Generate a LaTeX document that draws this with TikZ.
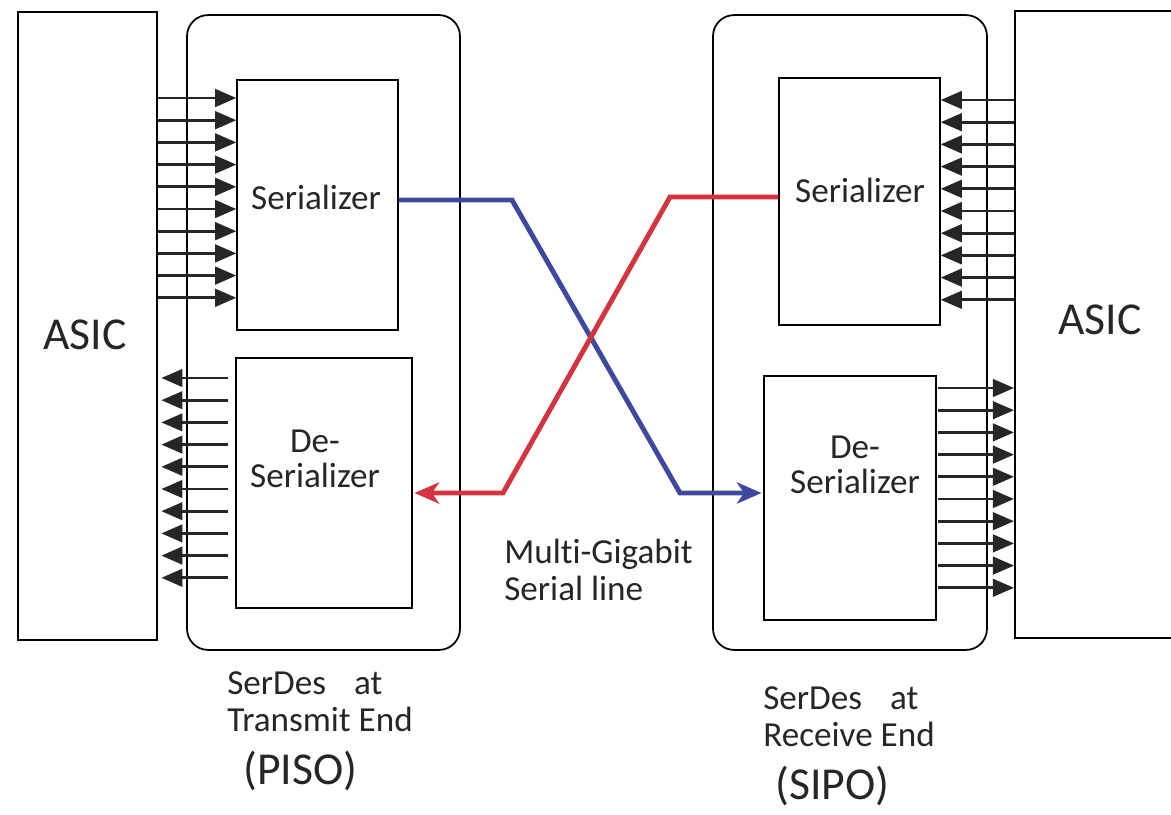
\documentclass[tikz,border=0pt]{standalone}
\usepackage{fontspec}
\setmainfont{Carlito}
\usetikzlibrary{arrows.meta}
\definecolor{lineblue}{RGB}{62,72,158}
\definecolor{linered}{RGB}{212,52,62}
\tikzset{
    chip-box/.style = {draw=black, line width=1pt, rectangle, inner sep=0pt},
    serdes-box/.style = {draw=black, line width=1pt, rectangle, rounded corners=12pt, inner sep=0pt},
    block-box/.style = {draw=black, line width=0.8pt, rectangle, inner sep=0pt},
    bus/.style = {draw=black!85, line width=1.5pt, -{Triangle[length=12pt,width=10pt]}},
    serial/.style = {line width=2.8pt, -{Stealth[length=14pt,width=12pt,inset=4pt]}},
    label-text/.style = {font=\fontsize{20}{20}\selectfont, text=black!85, inner sep=0pt},
    big-text/.style = {font=\fontsize{26}{30}\selectfont, text=black!85, inner sep=0pt},
}

\begin{document}
\begin{tikzpicture}[x=0.02cm, y=-0.02cm]
\useasboundingbox (0,0) rectangle (1171,815);

% left side
\node [chip-box, minimum width=2.78cm, minimum height=12.56cm] (asicL) at (87.5,326) {};
\node [serdes-box, minimum width=5.46cm, minimum height=12.7cm] (serdesL) at (323.5,332.5) {};
\node [block-box, minimum width=3.22cm, minimum height=5cm] (serL) at (317.5,205) {};
\node [block-box, minimum width=3.52cm, minimum height=5cm] (desL) at (324,483) {};

% right side
\node [chip-box, minimum width=3.4cm, minimum height=12.54cm, anchor=north west] (asicR) at (1014,10) {};
\node [serdes-box, minimum width=5.48cm, minimum height=12.7cm] (serdesR) at (850,332.5) {};
\node [block-box, minimum width=3.22cm, minimum height=4.94cm] (serR) at (859.5,201.5) {};
\node [block-box, minimum width=3.44cm, minimum height=4.88cm] (desR) at (850,498) {};

% parallel buses
\foreach \i [evaluate=\i as \y using 98+22.2*\i] in {0,...,9} {
    \draw [bus] (asicL.east |- 0,\y) -- (serL.west |- 0,\y);
    \draw [bus] ([xshift=-4pt]desL.west |- 0,{\y+280}) -- ([xshift=2pt]asicL.east |- 0,{\y+280});
    \draw [bus] (asicR.west |- 0,{\y+2}) -- (serR.east |- 0,{\y+2});
    \draw [bus] ([xshift=1pt]desR.east |- 0,{\y+290}) -- (asicR.west |- 0,{\y+290});
}

% serial lines
\draw [serial, draw=lineblue, color=lineblue]
    (serL.east |- 0,200) -- (512,200) -- (680,493) -- ([xshift=-1pt]desR.west |- 0,493);
\draw [serial, draw=linered, color=linered]
    (serR.west |- 0,197) -- (670,197) -- (503,493) -- ([xshift=1pt]desL.east |- 0,493);

% labels
\node [big-text] (asicLtext) at (85,335) {ASIC};
\node [big-text] (asicRtext) at (1100,320) {ASIC};
\node [label-text] (serLtext) at (316,197) {Serializer};
\node [label-text, align=center] (desLtext) at (315,459) {De-\\Serializer};
\node [label-text] (serRtext) at (860,190) {Serializer};
\node [label-text, align=center] (desRtext) at (855,465) {De-\\Serializer};
\node [label-text, anchor=base west] (mgText) at (504,563) {Mult\kern0pti-Gigabit};
\node [label-text, anchor=base west] (slText) at (504,600) {Serial line};
\node [label-text, anchor=base west] (txA) at (227,694) {SerDes\hspace{0.8em}at};
\node [label-text, anchor=base west] (txB) at (227,731) {Transmit End};
\node [big-text, anchor=base west] (txC) at (243,784) {(PISO)};
\node [label-text, anchor=base west] (rxA) at (763,709) {SerDes\hspace{0.8em}at};
\node [label-text, anchor=base west] (rxB) at (763,746) {Receive End};
\node [big-text, anchor=base west] (rxC) at (775,799) {(SIPO)};
\end{tikzpicture}
\end{document}
